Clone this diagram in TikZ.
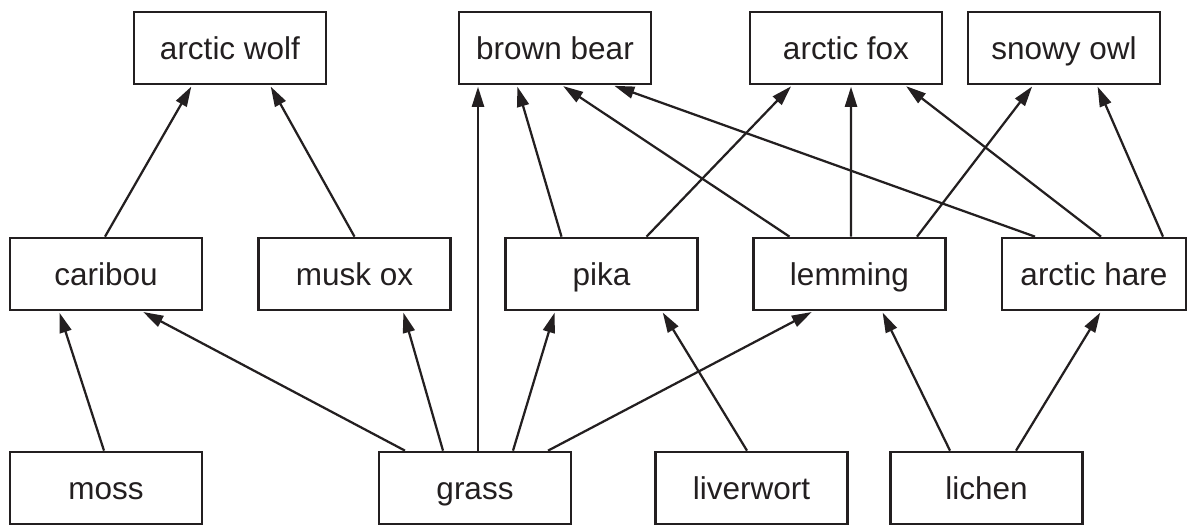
\documentclass[tikz,border=0pt]{standalone}
\usepackage{fontspec}
\setmainfont{Liberation Sans}
\usetikzlibrary{arrows.meta, calc}
\definecolor{ink}{RGB}{35,31,32}

\begin{document}
\begin{tikzpicture}[x=0.025cm,y=-0.025cm,
  every node/.style={draw=ink,line width=1.9pt,minimum width=4.8cm,minimum height=1.8cm,inner sep=0pt,text=ink,text height=17pt,text depth=0pt,font=\fontsize{22.4}{26}\selectfont},
  feeds/.style={draw=ink,line width=1.6pt,-{Triangle[length=0.5cm,width=0.3cm]},shorten >=1pt}]
  \useasboundingbox (0,0) rectangle (1188,525);
  % predators
  \path (230,48) node (wolf) {arctic wolf} (555,48) node (bear) {brown bear}
  (846,48) node (fox) {arctic fox} (1064,48) node (owl) {snowy owl};
  % herbivores
  \path (106,274) node (caribou) {caribou} (354.5,274) node (muskox) {musk ox}
  (601.5,274) node (pika) {pika} (849.5,274) node (lemming) {lemming}
  (1094,274) node[minimum width=4.6cm] (hare) {arctic hare};
  % plants
  \path (106,488) node (moss) {moss} (475,488) node (grass) {grass}
  (751.5,488) node (liverwort) {liverwort} (986.5,488) node (lichen) {lichen};
  \draw[feeds] ($(caribou.north)+(-1,0)$) -- ($(wolf.south)+(-38,0)$);
  \draw[feeds] (muskox.north) -- ($(wolf.south)+(40,0)$);
  \draw[feeds] ($(grass.north)+(3,0)$) -- ($(bear.south)+(-77,0)$);
  \draw[feeds] ($(pika.north)+(-40,0)$) -- ($(bear.south)+(-38,0)$);
  \draw[feeds] ($(lemming.north)+(-60,0)$) -- ($(bear.south)+(7,0)$);
  \draw[feeds] ($(hare.north)+(-59,0)$) -- ($(bear.south)+(58,0)$);
  \draw[feeds] ($(pika.north)+(45,0)$) -- ($(fox.south)+(-54,0)$);
  \draw[feeds] ($(lemming.north)+(1.5,0)$) -- ($(fox.south)+(5,0)$);
  \draw[feeds] ($(hare.north)+(7,0)$) -- ($(fox.south)+(59,0)$);
  \draw[feeds] ($(lemming.north)+(67.5,0)$) -- ($(owl.south)+(-31,0)$);
  \draw[feeds] ($(hare.north)+(69,0)$) -- ($(owl.south)+(33,0)$);
  \draw[feeds] ($(moss.north)+(-2,0)$) -- ($(caribou.south)+(-47,0)$);
  \draw[feeds] ($(grass.north)+(-70,0)$) -- ($(caribou.south)+(36,0)$);
  \draw[feeds] ($(grass.north)+(-32,0)$) -- ($(muskox.south)+(48.5,0)$);
  \draw[feeds] ($(grass.north)+(38,0)$) -- ($(pika.south)+(-46.5,0)$);
  \draw[feeds] ($(grass.north)+(73,0)$) -- ($(lemming.south)+(-36.5,0)$);
  \draw[feeds] ($(liverwort.north)+(-4.5,0)$) -- ($(pika.south)+(60.5,0)$);
  \draw[feeds] ($(lichen.north)+(-36.5,0)$) -- ($(lemming.south)+(32.5,0)$);
  \draw[feeds] ($(lichen.north)+(29.5,0)$) -- ($(hare.south)+(7,0)$);
\end{tikzpicture}
\end{document}
